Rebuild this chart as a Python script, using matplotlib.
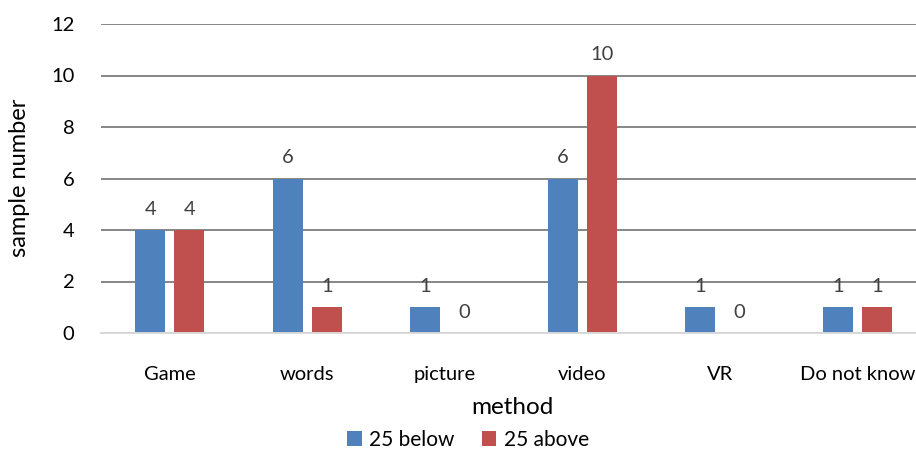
import numpy as np
import matplotlib
matplotlib.use('Agg')
import matplotlib.pyplot as plt

plt.rcParams['font.family'] = ['Lato', 'DejaVu Sans']

categories = ['Game', 'words', 'picture', 'video', 'VR', 'Do not know']
below_25 = [4, 6, 1, 6, 1, 1]
above_25 = [4, 1, 0, 10, 0, 1]
series_names = ['25 below', '25 above']
y_ticks = [0, 2, 4, 6, 8, 10, 12]

blue = '#4F81BD'
red = '#C0504D'

W, H = 916, 451
fig = plt.figure(figsize=(W / 100, H / 100), dpi=100)
# plot area runs slightly past the right edge
left, right, top, bottom = 101, 926, 24, 333
ax = fig.add_axes([left / W, 1 - bottom / H, (right - left) / W, (bottom - top) / H])

x = np.arange(len(categories))
width = 0.218
off = 0.142
b1 = ax.bar(x - off, below_25, width, color=blue, label=series_names[0], zorder=3)
b2 = ax.bar(x + off, above_25, width, color=red, label=series_names[1], zorder=3)

for bars in (b1, b2):
    for rect in bars:
        v = rect.get_height()
        ax.annotate(str(int(v)), (rect.get_x() + rect.get_width() / 2, v),
                    xytext=(0, 15), textcoords='offset points',
                    ha='center', va='center', fontsize=14.5, color='#404040')

ax.set_xlim(-0.5, len(categories) - 0.5)
ax.set_ylim(0, 12)
ax.set_yticks(y_ticks)
ax.set_xticks(x)
ax.set_xticklabels(categories)
ax.tick_params(axis='both', length=0, labelsize=14.5, colors='#000000')
ax.tick_params(axis='x', pad=24)
ax.tick_params(axis='y', pad=19)
ax.grid(axis='y', color='#868686', linewidth=1.4, zorder=0)
for s in ['top', 'right', 'left']:
    ax.spines[s].set_visible(False)
ax.spines['bottom'].set_color('#D9D9D9')
ax.spines['bottom'].set_linewidth(1.4)
ax.spines['bottom'].set_zorder(4)

fig.text(20 / W, 1 - 178 / H, 'sample number', rotation=90, ha='center', va='center',
         fontsize=17)
fig.text(512 / W, 1 - 407 / H, 'method', ha='center', va='center', fontsize=17.5)

fig.legend(handles=[b1, b2], labels=series_names, loc='center',
           bbox_to_anchor=(468 / W, 1 - 440 / H), ncol=2, frameon=False,
           fontsize=15, handlelength=0.7, handleheight=0.7, handletextpad=0.35,
           columnspacing=1.3)

fig.savefig('out.png', dpi=100)
